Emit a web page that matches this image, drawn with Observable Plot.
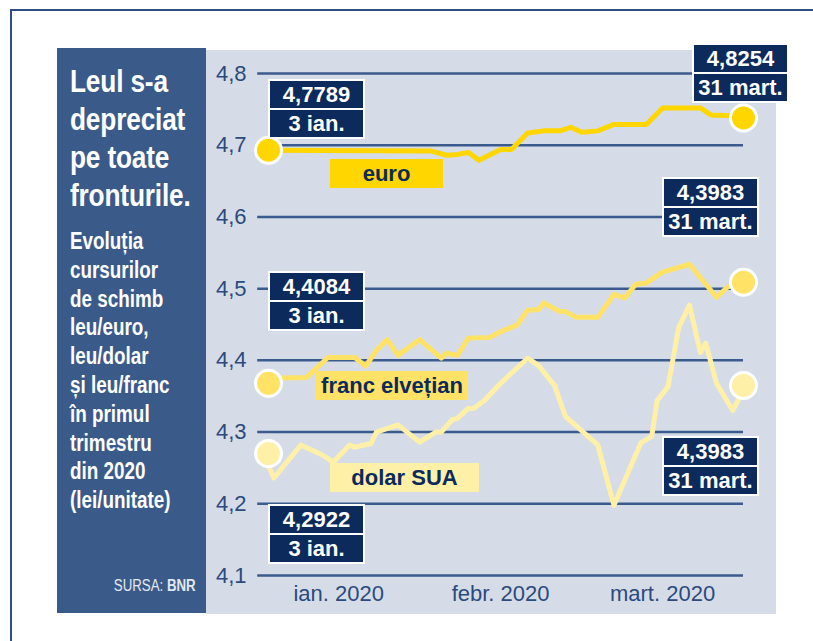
<!DOCTYPE html>
<html>
<head>
<meta charset="utf-8">
<script src="https://cdn.jsdelivr.net/npm/d3@7"></script>
<script src="https://cdn.jsdelivr.net/npm/@observablehq/plot@0.6"></script>
<style>
  body { margin: 0; background: #fff; overflow: hidden; }
  #wrap { position: relative; width: 813px; height: 641px; overflow: hidden; font-family: "Liberation Sans", Arial, sans-serif; }
  .frame { position: absolute; left: 10px; top: 9px; width: 900px; height: 800px; border-top: 2px solid #2e4f80; border-left: 2px solid #2e4f80; }
  .panel { position: absolute; left: 57px; top: 48px; width: 149px; height: 565px; background: #3a5a8a; color: #fff; font-family: "Liberation Sans", Arial, sans-serif; font-weight: bold; }
  .title { position: absolute; left: 13px; top: 14px; font-size: 32px; line-height: 38px; white-space: nowrap; transform: scaleX(0.82); transform-origin: 0 0; letter-spacing: -0.2px; }
  .sub { position: absolute; left: 13px; top: 179px; font-size: 23px; line-height: 28.8px; white-space: nowrap; transform: scaleX(0.82); transform-origin: 0 0; }
  .src { position: absolute; right: 10px; top: 528px; font-size: 16px; line-height: 20px; font-weight: normal; color: #e3e8f0; white-space: nowrap; transform: scaleX(0.83); transform-origin: 100% 0; }
  .src b { font-weight: bold; }
  .bg { position: absolute; left: 206px; top: 50px; width: 570px; height: 564px; background: #d5dce7; }
  .vbox { position: absolute; width: 93px; background: #fff; padding: 2px; }
  .vbox div { height: 27px; line-height: 28px; background: #0c2a5c; color: #fff; font-weight: bold; font-size: 22px; text-align: center; }
  .vbox div + div { margin-top: 2px; }
  .sbox { position: absolute; height: 29px; line-height: 30px; text-align: center; font-weight: bold; font-size: 22px; color: #0c2a5c; white-space: nowrap; }
</style>
</head>
<body>
<div id="wrap">
  <div class="frame"></div>
  <div class="panel">
    <div class="title">Leul s-a<br>depreciat<br>pe toate<br>fronturile.</div>
    <div class="sub">Evoluția<br>cursurilor<br>de schimb<br>leu/euro,<br>leu/dolar<br>și leu/franc<br>în primul<br>trimestru<br>din 2020<br>(lei/unitate)</div>
    <div class="src">SURSA: <b>BNR</b></div>
  </div>
  <div class="bg"></div>
</div>
<script>
// ---------- data ----------
const euroDates = ["2020-01-03","2020-02-02","2020-02-05","2020-02-07","2020-02-09","2020-02-11","2020-02-15","2020-02-17","2020-02-20","2020-02-23","2020-02-26","2020-02-28","2020-03-01","2020-03-04","2020-03-07","2020-03-13","2020-03-16","2020-03-23","2020-03-25","2020-03-29","2020-03-31"];
const euroValues = [4.693,4.692,4.686,4.687,4.690,4.679,4.694,4.694,4.717,4.720,4.720,4.725,4.718,4.720,4.729,4.729,4.752,4.752,4.742,4.741,4.738];

const francDates = ["2020-01-03","2020-01-10","2020-01-14","2020-01-19","2020-01-21","2020-01-23","2020-01-25","2020-01-27","2020-01-31","2020-02-04","2020-02-05","2020-02-07","2020-02-09","2020-02-13","2020-02-15","2020-02-18","2020-02-20","2020-02-22","2020-02-23","2020-02-26","2020-02-27","2020-02-29","2020-03-04","2020-03-07","2020-03-09","2020-03-11","2020-03-13","2020-03-16","2020-03-21","2020-03-26","2020-03-28","2020-03-31"];
const francValues = [4.375,4.376,4.404,4.404,4.392,4.414,4.429,4.407,4.429,4.403,4.410,4.407,4.431,4.432,4.440,4.449,4.470,4.471,4.480,4.468,4.468,4.460,4.460,4.492,4.487,4.506,4.508,4.523,4.534,4.488,4.502,4.509];

const dollarDates = ["2020-01-03","2020-01-04","2020-01-09","2020-01-13","2020-01-15","2020-01-18","2020-01-19","2020-01-22","2020-01-23","2020-01-27","2020-01-31","2020-02-03","2020-02-04","2020-02-06","2020-02-07","2020-02-09","2020-02-10","2020-02-12","2020-02-15","2020-02-20","2020-02-22","2020-02-25","2020-02-27","2020-03-04","2020-03-07","2020-03-12","2020-03-14","2020-03-15","2020-03-17","2020-03-19","2020-03-21","2020-03-23","2020-03-24","2020-03-26","2020-03-29","2020-03-30","2020-03-31"];
const dollarValues = [4.253,4.236,4.282,4.268,4.258,4.282,4.279,4.284,4.300,4.310,4.286,4.300,4.300,4.317,4.319,4.333,4.333,4.344,4.368,4.403,4.393,4.365,4.322,4.282,4.198,4.285,4.294,4.344,4.363,4.446,4.477,4.411,4.424,4.368,4.330,4.344,4.365];

// end-point markers (first / last day)
const dotDates = ["2020-01-03","2020-03-31"];
const euroDots = [4.693, 4.738];
const francDots = [4.368, 4.509];
const dollarDots = [4.270, 4.365];

// axes
const yTicks = [4.1, 4.2, 4.3, 4.4, 4.5, 4.6, 4.7, 4.8];
const xTickDates = ["2020-01-16","2020-02-15","2020-03-16"];
const xTickLabels = ["ian. 2020","febr. 2020","mart. 2020"];
const gridStart = "2020-01-01";
const gridEnd = "2020-03-31";

// annotations
const seriesNames = ["euro","franc elvețian","dolar SUA"];
const startValueLabels = ["4,7789","4,4084","4,2922"];
const endValueLabels = ["4,8254","4,3983","4,3983"];
const startDateLabel = "3 ian.";
const endDateLabel = "31 mart.";

// ---------- styles / layout ----------
const colors = ["#ffd600","#ffe266","#fff0a8"];
const startBoxPos = [[268,79],[268,271],[268,504]];
const endBoxPos = [[692,43],[662,177],[662,436]];
const nameBoxPos = [[330,159,113],[316,371,152],[330,463,149]];

// ---------- build ----------
const parse = d3.utcParse("%Y-%m-%d");
const rows = (dates, values) => dates.map((d, i) => ({date: parse(d), value: values[i]}));
const euro = rows(euroDates, euroValues);
const franc = rows(francDates, francValues);
const dollar = rows(dollarDates, dollarValues);
const dots = [
  ...rows(dotDates, dollarDots).map(d => ({...d, c: colors[2]})),
  ...rows(dotDates, francDots).map(d => ({...d, c: colors[1]})),
  ...rows(dotDates, euroDots).map(d => ({...d, c: colors[0]}))
];
const xTicks = xTickDates.map(parse);
const xLabelMap = new Map(xTicks.map((d, i) => [+d, xTickLabels[i]]));
const g0 = parse(gridStart), g1 = parse(gridEnd);

const chart = Plot.plot({
  width: 813,
  height: 641,
  marginLeft: 268,
  marginRight: 70,
  marginTop: 73,
  marginBottom: 66,
  x: {type: "utc", domain: [parse("2020-01-03"), parse("2020-03-31")]},
  y: {domain: [4.1, 4.8]},
  style: {background: "transparent", overflow: "visible", fontFamily: "'Liberation Sans', Arial, sans-serif"},
  marks: [
    Plot.ruleY(yTicks, {x1: () => g0, x2: () => g1, stroke: "#3b5a8d", strokeWidth: 2.5}),
    Plot.axisY(yTicks, {tickSize: 0, tickPadding: 22, tickFormat: d => d.toFixed(1).replace(".", ","), fontSize: 22, fill: "#2b4a7d", label: null}),
    Plot.axisX(xTicks, {tickSize: 0, tickPadding: 10, tickFormat: d => xLabelMap.get(+d), fontSize: 22, fill: "#2b4a7d", label: null}),
    Plot.line(dollar, {x: "date", y: "value", stroke: colors[2], strokeWidth: 5}),
    Plot.line(franc, {x: "date", y: "value", stroke: colors[1], strokeWidth: 5}),
    Plot.line(euro, {x: "date", y: "value", stroke: colors[0], strokeWidth: 5}),
    Plot.dot(dots, {x: "date", y: "value", r: 13, fill: "c", stroke: "#fff", strokeWidth: 3})
  ]
});
chart.style.position = "absolute";
chart.style.left = "0px";
chart.style.top = "0px";
const wrap = document.getElementById("wrap");
wrap.appendChild(chart);

function valueBox(pos, value, date) {
  const b = document.createElement("div");
  b.className = "vbox";
  b.style.left = pos[0] + "px";
  b.style.top = pos[1] + "px";
  const a = document.createElement("div"); a.textContent = value;
  const c = document.createElement("div"); c.textContent = date;
  b.appendChild(a); b.appendChild(c);
  wrap.appendChild(b);
}
seriesNames.forEach((name, i) => {
  valueBox(startBoxPos[i], startValueLabels[i], startDateLabel);
  valueBox(endBoxPos[i], endValueLabels[i], endDateLabel);
  const s = document.createElement("div");
  s.className = "sbox";
  s.style.left = nameBoxPos[i][0] + "px";
  s.style.top = nameBoxPos[i][1] + "px";
  s.style.width = nameBoxPos[i][2] + "px";
  s.style.background = colors[i];
  s.textContent = name;
  wrap.appendChild(s);
});
</script>
</body>
</html>
